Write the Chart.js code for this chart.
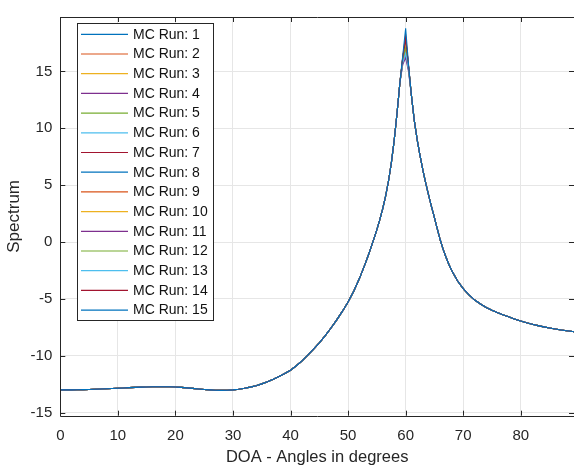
<!DOCTYPE html>
<html>
<head>
<meta charset="utf-8">
<script src="https://cdn.jsdelivr.net/npm/chart.js@4/dist/chart.umd.min.js"></script>
<style>
  html, body { margin: 0; padding: 0; background: #fff; overflow: hidden; }
  canvas { display: block; }
</style>
</head>
<body>
<canvas id="chartCanvas" width="574" height="470"></canvas>
<script>
// DOA angles (degrees), finer around the peak
const angles = [
  0, 1, 2, 3, 4, 5, 6, 7, 8, 9, 10, 11, 12, 13, 14, 15, 16, 17, 18, 19,
  20, 21, 22, 23, 24, 25, 26, 27, 28, 29, 30, 31, 32, 33, 34, 35, 36, 37, 38, 39,
  40, 41, 42, 43, 44, 45, 46, 47, 48, 49, 50, 51, 52, 53,
  53.5, 54, 54.5, 55, 55.5, 56, 56.5, 57, 57.5, 58, 58.5, 59, 59.5, 60,
  60.5, 61, 61.5, 62, 62.5, 63, 63.5, 64, 64.5, 65, 65.5, 66, 66.5, 67, 67.5, 68,
  69, 70, 71, 72, 73, 74, 75, 76, 77, 78, 79, 80, 81, 82, 83, 84, 85, 86, 87, 88, 89, 90
];

// common spectrum shape shared by all runs (dB)
const baseSpectrum = [
  -13.00, -13.00, -13.00, -12.99, -12.98, -12.96, -12.94, -12.92, -12.90, -12.88,
  -12.86, -12.83, -12.80, -12.78, -12.76, -12.74, -12.73, -12.72, -12.72, -12.73,
  -12.75, -12.78, -12.82, -12.87, -12.92, -12.96, -13.00, -13.03, -13.04, -13.03,
  -13.00, -12.94, -12.86, -12.76, -12.63, -12.47, -12.28, -12.07, -11.83, -11.56,
  -11.27, -10.88, -10.45, -9.95, -9.42, -8.86, -8.25, -7.58, -6.87, -6.10,
  -5.28, -4.30, -3.17, -1.88,
  -1.18, -0.45, 0.30, 1.10, 1.95, 2.90, 4.00, 5.30, 6.90, 8.90, 11.30, 14.00, 16.20, 17.90,
  15.50, 12.90, 10.70, 9.00, 7.60, 6.30, 5.15, 4.10, 3.10, 2.15, 1.15, 0.20, -0.62, -1.32, -1.95, -2.50,
  -3.40, -4.10, -4.65, -5.10, -5.45, -5.75, -6.00, -6.22, -6.42, -6.60, -6.78, -6.95,
  -7.10, -7.23, -7.35, -7.46, -7.56, -7.65, -7.73, -7.80, -7.87, -7.93
];

// values at the peak that differ from run to run
const peakAngles = [59.5, 60, 60.5];
const peakRuns = [
  [16.2, 17.9, 15.5],
  [16.3, 18.2, 15.5],
  [16.1, 17.4, 15.4],
  [15.9, 16.9, 15.3],
  [16.1, 17.6, 15.4],
  [15.7, 16.4, 15.1],
  [16.2, 18.0, 15.5],
  [16.0, 17.2, 15.4],
  [15.8, 16.7, 15.2],
  [16.1, 17.5, 15.4],
  [15.6, 16.2, 15.0],
  [15.9, 17.0, 15.3],
  [15.8, 16.6, 15.2],
  [16.2, 17.8, 15.5],
  [16.4, 18.8, 15.6]
];

const runLabels = [
  "MC Run: 1", "MC Run: 2", "MC Run: 3", "MC Run: 4", "MC Run: 5",
  "MC Run: 6", "MC Run: 7", "MC Run: 8", "MC Run: 9", "MC Run: 10",
  "MC Run: 11", "MC Run: 12", "MC Run: 13", "MC Run: 14", "MC Run: 15"
];

const xTicks = [0, 10, 20, 30, 40, 50, 60, 70, 80];
const yTicks = [-15, -10, -5, 0, 5, 10, 15];

const lineColors = ["#0072BD", "#D95319", "#EDB120", "#7E2F8E", "#77AC30", "#4DBEEE", "#A2142F"];

const FONT = "'Liberation Sans', Arial, Helvetica, sans-serif";
const AXIS_COLOR = "#262626";

const datasets = runLabels.map(function (label, r) {
  return {
    label: label,
    data: angles.map(function (a, i) {
      const k = peakAngles.indexOf(a);
      return { x: a, y: k >= 0 ? peakRuns[r][k] : baseSpectrum[i] };
    }),
    borderColor: lineColors[r % lineColors.length],
    borderWidth: 1.1,
    pointRadius: 0,
    tension: 0,
    fill: false,
    order: runLabels.length - r // last run drawn on top, like MATLAB
  };
});

// box, inward tick marks and the legend box
const matlabAxes = {
  id: "matlabAxes",
  afterDraw(chart) {
    const ctx = chart.ctx;
    const a = chart.chartArea;
    const xs = chart.scales.x, ys = chart.scales.y;
    ctx.save();
    ctx.strokeStyle = AXIS_COLOR;
    ctx.lineWidth = 1;
    ctx.beginPath();
    ctx.rect(Math.round(a.left) + 0.5, Math.round(a.top) + 0.5,
             Math.round(a.right - a.left), Math.round(a.bottom - a.top));
    ctx.stroke();

    const tl = 5;
    ctx.beginPath();
    xTicks.forEach(function (v) {
      const px = Math.round(xs.getPixelForValue(v)) + 0.5;
      ctx.moveTo(px, a.bottom); ctx.lineTo(px, a.bottom - tl);
      ctx.moveTo(px, a.top); ctx.lineTo(px, a.top + tl);
    });
    yTicks.forEach(function (v) {
      const py = Math.round(ys.getPixelForValue(v)) + 0.5;
      ctx.moveTo(a.left, py); ctx.lineTo(a.left + tl, py);
      ctx.moveTo(a.right, py); ctx.lineTo(a.right - tl, py);
    });
    ctx.stroke();

    // legend
    const lx = 77, ly = 23, lw = 136, lh = 297;
    ctx.fillStyle = "#fff";
    ctx.fillRect(lx, ly, lw, lh);
    ctx.strokeStyle = AXIS_COLOR;
    ctx.strokeRect(lx + 0.5, ly + 0.5, lw, lh);
    ctx.font = "14px " + FONT;
    ctx.textBaseline = "middle";
    ctx.textAlign = "left";
    chart.data.datasets.forEach(function (ds, i) {
      const y = 34.3 + 19.7 * i;
      ctx.strokeStyle = ds.borderColor;
      ctx.lineWidth = 1.2;
      ctx.beginPath();
      ctx.moveTo(81, y); ctx.lineTo(128, y);
      ctx.stroke();
      ctx.fillStyle = "#111";
      ctx.fillText(ds.label, 133, y + 0.5);
    });
    ctx.restore();
  }
};

const ctx = document.getElementById("chartCanvas").getContext("2d");
new Chart(ctx, {
  type: "line",
  data: { datasets: datasets },
  options: {
    responsive: false,
    animation: false,
    events: [],
    layout: { padding: { top: 8, left: 0, right: 0, bottom: 0 } },
    plugins: { legend: { display: false }, tooltip: { enabled: false } },
    scales: {
      x: {
        type: "linear",
        min: 0,
        max: 89.25,
        afterFit(s) { s.height = 54.3; },
        afterBuildTicks(s) { s.ticks = xTicks.map(function (v) { return { value: v }; }); },
        grid: { color: "#e6e6e6", lineWidth: 1, drawTicks: false },
        border: { display: false },
        ticks: { color: AXIS_COLOR, font: { family: FONT, size: 15 }, padding: 11, maxRotation: 0 },
        title: {
          display: true,
          text: "DOA - Angles in degrees",
          color: AXIS_COLOR,
          font: { family: FONT, size: 16.5 },
          padding: { top: 4, bottom: 3 }
        }
      },
      y: {
        type: "linear",
        min: -15.27,
        max: 19.79,
        afterFit(s) { s.width = 60.3; },
        afterBuildTicks(s) { s.ticks = yTicks.map(function (v) { return { value: v }; }); },
        grid: { color: "#e6e6e6", lineWidth: 1, drawTicks: false },
        border: { display: false },
        ticks: { color: AXIS_COLOR, font: { family: FONT, size: 15 }, padding: 8 },
        title: {
          display: true,
          text: "Spectrum",
          color: AXIS_COLOR,
          font: { family: FONT, size: 17 },
          padding: { top: 4, bottom: 4 }
        }
      }
    }
  },
  plugins: [matlabAxes]
});
</script>
</body>
</html>
